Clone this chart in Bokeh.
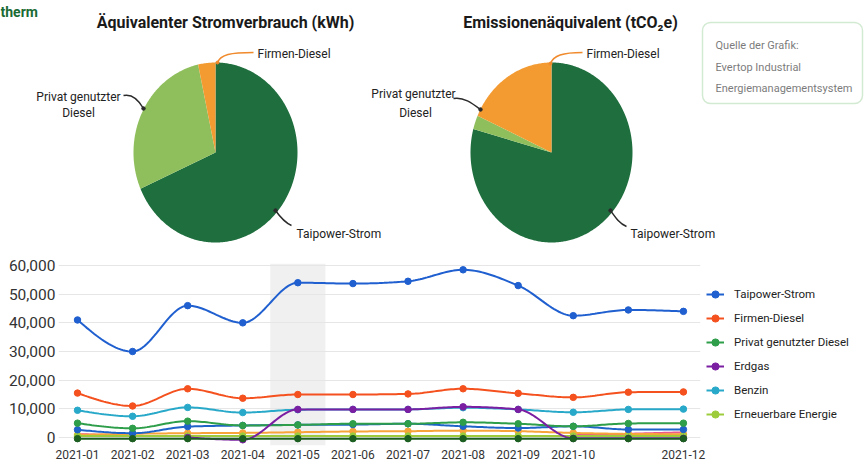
import numpy as np
from bokeh.plotting import figure
from bokeh.models import (Range1d, FixedTicker, NumeralTickFormatter, BoxAnnotation,
                          Legend, LegendItem)
from bokeh.embed import file_html
from bokeh.resources import INLINE
from bokeh.core.properties import value

nan = float("nan")

# ---------------- data ----------------
months = ["2021-01", "2021-02", "2021-03", "2021-04", "2021-05", "2021-06",
          "2021-07", "2021-08", "2021-09", "2021-10", "2021-11", "2021-12"]
shown_ticks = [0, 1, 2, 3, 4, 5, 6, 7, 8, 9, 11]

taipower = [41000, 30000, 46000, 40000, 54000, 53700, 54500, 58500, 53000, 42500, 44500, 44000]
firmen_diesel = [15500, 11000, 17000, 13700, 15000, 15000, 15200, 17000, 15400, 14000, 15800, 15900]
privat_diesel = [5000, 3200, 5700, 4200, 4400, 4800, 4800, 5300, 4800, 3900, 4900, 5000]
erdgas = [nan, nan, 0, -800, 9800, 9800, 9800, 10700, 9800, -300, -300, -300]
benzin = [9500, 7400, 10500, 8700, 9700, 9800, 9800, 10400, 9800, 8800, 9800, 9900]
erneuerbar = [500, 500, 500, 500, 500, 500, 500, 500, 500, 500, 500, 500]
# unlabeled series visible in the chart
extra_blue = [2700, 1500, 3800, 4200, 4400, 4500, 4800, 3900, 3300, 3900, 2800, 2800]
extra_orange = [900, 1300, 1500, 1600, 1850, 2100, 2200, 2400, 2200, 1600, 1250, 1150]
extra_pink = [1200, 600, nan, 900, nan, nan, nan, nan, nan, 800, 1300, 1800]
extra_darkgreen = [-400, -400, -400, -400, -400, -400, -400, -400, -400, -400, -400, -400]

y_ticks = [0, 10000, 20000, 30000, 40000, 50000, 60000]

pie_labels = ["Taipower-Strom", "Privat genutzter Diesel", "Firmen-Diesel"]
strom_share = [68.4, 28.2, 3.4]       # Äquivalenter Stromverbrauch (kWh), %
emission_share = [79.2, 2.5, 18.3]    # Emissionenäquivalent (tCO2e), %
pie_colors = ["#1e6e3e", "#8fbf5c", "#f39a30"]

FONT = "Roboto"
W = 865
TOP_H = 250

# ---------------- top: pies ----------------
top = figure(width=W, height=TOP_H, x_range=Range1d(0, W), y_range=Range1d(TOP_H, 0),
             output_backend="svg", toolbar_location=None, min_border=0)
top.axis.visible = False
top.grid.visible = False
top.outline_line_color = None


def pie(p, shares, cx, cy, rx, ry):
    total = float(sum(shares))
    start = np.pi / 2
    xs, ys = [], []
    for s in shares:
        sweep = 2 * np.pi * s / total
        th = np.linspace(start, start - sweep, max(6, int(sweep * 80)))
        xs.append([cx] + list(cx + rx * np.cos(th)))
        ys.append([cy] + list(cy - ry * np.sin(th)))
        start -= sweep
    p.patches(xs, ys, fill_color=pie_colors, line_color=None)


pie(top, strom_share, 215, 152, 82, 90)
pie(top, emission_share, 551, 152, 81, 90)

title_kw = dict(text_font=value(FONT), text_font_size="16px", text_font_style="bold",
                text_color="#1a1a1a", text_align="center", text_baseline="middle")
top.text(x=[225], y=[22], text=["Äquivalenter Stromverbrauch (kWh)"], **title_kw)
top.text(x=[570], y=[22], text=["Emissionenäquivalent (tCO₂e)"], **title_kw)

lab_kw = dict(text_font=value(FONT), text_font_size="12px", text_color="#222222",
              text_baseline="middle")
# left pie labels
top.text(x=[257], y=[53], text=["Firmen-Diesel"], text_align="left", **lab_kw)
top.text(x=[78, 78], y=[96, 112], text=["Privat genutzter", "Diesel"], text_align="center", **lab_kw)
top.text(x=[296], y=[233], text=["Taipower-Strom"], text_align="left", **lab_kw)
# right pie labels
top.text(x=[586], y=[53], text=["Firmen-Diesel"], text_align="left", **lab_kw)
top.text(x=[413, 415], y=[93, 112], text=["Privat genutzter", "Diesel"], text_align="center", **lab_kw)
top.text(x=[630], y=[233], text=["Taipower-Strom"], text_align="left", **lab_kw)

# leader lines
orange_lead = "#f08a2c"
dark_lead = "#2b2b2b"
top.bezier(x0=[217, 550], y0=[62, 63], x1=[253, 582], y1=[52, 52],
           cx0=[220, 553], cy0=[54, 55], cx1=[230, 562], cy1=[52, 52],
           line_color=orange_lead, line_width=1.5)
top.scatter(x=[217, 550], y=[62, 63], size=3, color=orange_lead)
top.bezier(x0=[123, 453], y0=[95, 98], x1=[143, 480], y1=[108, 109],
           cx0=[132, 463], cy0=[93, 96], cx1=[139, 472], cy1=[101, 103],
           line_color=dark_lead, line_width=1.5)
top.scatter(x=[143, 480], y=[108, 109], size=3.5, color=dark_lead)
top.bezier(x0=[275, 610], y0=[210, 210], x1=[291, 626], y1=[225, 226],
           cx0=[280, 615], cy0=[217, 217], cx1=[284, 619], cy1=[222, 223],
           line_color=dark_lead, line_width=1.5)
top.scatter(x=[275, 610], y=[210, 210], size=3.5, color=dark_lead)

# source box
box = BoxAnnotation(left=702, right=862, top=22, bottom=103, fill_color="white",
                    line_color="#6dbb6a", line_width=1.5, border_radius=8)
top.add_layout(box)
top.text(x=[715, 715, 715], y=[45, 67, 88],
         text=["Quelle der Grafik:", "Evertop Industrial", "Energiemanagementsystem"],
         text_font=value(FONT), text_font_size="11px", text_color="#222222",
         text_baseline="middle", text_align="left")

# logo text fragment at the top-left
top.text(x=[0], y=[11], text=["therm"], text_font=value(FONT), text_font_size="14px",
         text_font_style="bold", text_color="#1b6b35", text_baseline="alphabetic")

# ---------------- bottom: line chart ----------------
bot = figure(frame_width=642, frame_height=182,
             x_range=Range1d(-0.345, 11.31), y_range=Range1d(-2790, 60700),
             output_backend="svg", toolbar_location=None,
             min_border_left=58, min_border_right=165, min_border_top=13, min_border_bottom=0)
bot.outline_line_color = None
bot.xgrid.visible = False
bot.ygrid.grid_line_color = "#e6e6e6"
bot.ygrid.grid_line_width = 1
bot.axis.axis_line_color = None
bot.axis.major_tick_line_color = None
bot.axis.minor_tick_line_color = None
bot.axis.major_tick_in = 0
bot.axis.major_tick_out = 0
bot.yaxis.ticker = FixedTicker(ticks=y_ticks)
bot.yaxis.formatter = NumeralTickFormatter(format="0,0")
bot.yaxis.major_label_text_font = FONT
bot.yaxis.major_label_text_font_size = "15.5px"
bot.yaxis.major_label_text_color = "#333333"
bot.yaxis.major_label_standoff = 3
bot.xaxis.ticker = FixedTicker(ticks=shown_ticks)
bot.xaxis.major_label_overrides = {i: m for i, m in enumerate(months)}
bot.xaxis.major_label_text_font = FONT
bot.xaxis.major_label_text_font_size = "12px"
bot.xaxis.major_label_text_color = "#333333"
bot.xaxis.major_label_standoff = 4

bot.add_layout(BoxAnnotation(left=3.5, right=4.5, fill_color="#e6e6e6", fill_alpha=0.6,
                             line_color=None, level="underlay"))


def monotone(xv, yv, n=24):
    """Monotone cubic (Steffen) rendering of a series; NaN breaks the line."""
    xv = np.asarray(xv, float)
    yv = np.asarray(yv, float)
    out_x, out_y = [], []
    ok = np.isfinite(yv)
    i = 0
    N = len(yv)
    while i < N:
        if not ok[i]:
            i += 1
            continue
        j = i
        while j + 1 < N and ok[j + 1]:
            j += 1
        xs, ys = xv[i:j + 1], yv[i:j + 1]
        k = len(xs)
        if k >= 2:
            h = np.diff(xs)
            s = np.diff(ys) / h
            m = np.zeros(k)
            for q in range(1, k - 1):
                p = (s[q - 1] * h[q] + s[q] * h[q - 1]) / (h[q - 1] + h[q])
                m[q] = (np.sign(s[q - 1]) + np.sign(s[q])) * min(abs(s[q - 1]), abs(s[q]), 0.5 * abs(p))
            if k > 2:
                m[0] = (3 * s[0] - m[1]) / 2
                m[-1] = (3 * s[-1] - m[-2]) / 2
            else:
                m[0] = m[-1] = s[0]
            for q in range(k - 1):
                t = np.linspace(0, 1, n)
                hh = h[q]
                h00 = 2 * t**3 - 3 * t**2 + 1
                h10 = t**3 - 2 * t**2 + t
                h01 = -2 * t**3 + 3 * t**2
                h11 = t**3 - t**2
                yy = h00 * ys[q] + h10 * hh * m[q] + h01 * ys[q + 1] + h11 * hh * m[q + 1]
                xx = xs[q] + t * hh
                out_x.extend(xx.tolist())
                out_y.extend(yy.tolist())
            out_x.append(nan)
            out_y.append(nan)
        i = j + 1
    return out_x, out_y


xidx = list(range(len(months)))
series = [
    (None, extra_pink, "#ec5a8c", False),
    (None, extra_orange, "#f7a53a", True),
    ("Erneuerbare Energie", erneuerbar, "#9ccc3c", True),
    (None, extra_blue, "#1e63c8", True),
    ("Privat genutzter Diesel", privat_diesel, "#2e9e4a", True),
    ("Benzin", benzin, "#29a9c9", True),
    ("Erdgas", erdgas, "#7b1fa2", True),
    (None, extra_darkgreen, "#1b5e20", True),
    ("Firmen-Diesel", firmen_diesel, "#f4511e", True),
    ("Taipower-Strom", taipower, "#1f5fcf", True),
]
legend_map = {}
for name, vals, col, markers in series:
    sx, sy = monotone(xidx, vals)
    rs = [bot.line(sx, sy, line_color=col, line_width=2)]
    if markers:
        rs.append(bot.scatter(xidx, vals, size=6.5, color=col))
    if name:
        legend_map[name] = rs

legend_order = ["Taipower-Strom", "Firmen-Diesel", "Privat genutzter Diesel", "Erdgas",
                "Benzin", "Erneuerbare Energie"]
legend = Legend(items=[LegendItem(label=n, renderers=legend_map[n]) for n in legend_order],
                location="center_left", orientation="vertical", ncols=1,
                label_text_font=FONT, label_text_font_size="11.5px", label_text_color="#222222",
                glyph_width=18, glyph_height=20, label_height=20, spacing=4, padding=4,
                margin=6, label_standoff=10, border_line_color=None, background_fill_alpha=0)
bot.add_layout(legend, "right")

open("out.html", "w").write(file_html([top, bot], INLINE))
